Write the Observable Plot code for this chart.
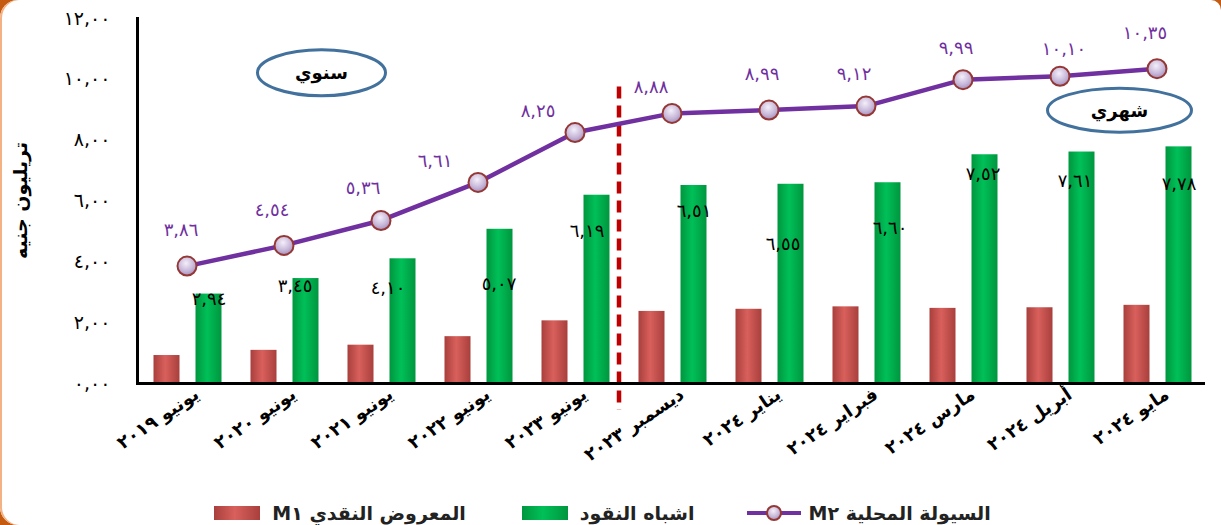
<!DOCTYPE html>
<html>
<head>
<meta charset="utf-8">
<script src="https://cdn.jsdelivr.net/npm/d3@7"></script>
<script src="https://cdn.jsdelivr.net/npm/@observablehq/plot@0.6"></script>
<style>
  html, body { margin: 0; padding: 0; background: #c55a11; }
  #wrap { position: relative; width: 1221px; height: 525px; background: #fff; overflow: hidden;
          border-radius: 18px 10px 0 18px; box-shadow: inset 2px 0 0 #f4b183; font-family: "DejaVu Sans", sans-serif; }
  #legend { display: flex; direction: rtl; justify-content: center; align-items: center; gap: 52px;
            height: 37px; padding-top: 6px; padding-right: 20px; font-weight: bold; font-size: 19px; color: #222; }
  .item { display: flex; align-items: center; gap: 8px; }
</style>
</head>
<body>
<div id="wrap"><div id="chart"></div><div id="legend"></div></div>
<script>
const categories = ["يونيو ٢٠١٩","يونيو ٢٠٢٠","يونيو ٢٠٢١","يونيو ٢٠٢٢","يونيو ٢٠٢٣","ديسمبر ٢٠٢٣","يناير ٢٠٢٤","فبراير ٢٠٢٤","مارس ٢٠٢٤","أبريل ٢٠٢٤","مايو ٢٠٢٤"];
const m1Values    = [0.92, 1.09, 1.26, 1.54, 2.06, 2.37, 2.44, 2.52, 2.47, 2.49, 2.57];
const quasiValues = [2.94, 3.45, 4.10, 5.07, 6.19, 6.51, 6.55, 6.60, 7.52, 7.61, 7.78];
const m2Values    = [3.86, 4.54, 5.36, 6.61, 8.25, 8.88, 8.99, 9.12, 9.99, 10.10, 10.35];
const yTicks = [0, 2, 4, 6, 8, 10, 12];
const seriesNames = ["السيولة المحلية M٢", "اشباه النقود", "المعروض النقدي M١"];
const yTitle = "تريليون جنيه";
const periodNotes = ["سنوي", "شهري"];

// label offsets (pixels) as placed in the source chart
const m2LabelDx = [-6, -12, -18, -43, -37, -21, -7, -12, -7, 4, -12];
const m2LabelDy = [-36, -35, -32, -21, -21, -26, -36, -32, -31, -27, -35];
const quasiLabelDx = [0, -11, -15, -1, -10, 0, -8, 2, -2, -7, 0];
const quasiLabelDy = [5, 8, 29, 55, 36, 26, 60, 45, 19, 29, 37];

const digits = "٠١٢٣٤٥٦٧٨٩";
const fmt = v => v.toFixed(2).replace(/\d/g, d => digits[d]).replace(".", ",");

const rows = categories.map((c, i) => ({cat: c, m1: m1Values[i], quasi: quasiValues[i], m2: m2Values[i], i}));

const GREEN_X = 22; // green bar centre offset from band centre
const m2Labels = rows.map(r => Plot.text([r], {x: "cat", y: "m2", text: d => fmt(d.m2),
  dx: m2LabelDx[r.i], dy: m2LabelDy[r.i], fill: "#7030a0", fontSize: 18, letterSpacing: 2}));
const quasiLabels = rows.map(r => Plot.text([r], {x: "cat", y: "quasi", text: d => fmt(d.quasi),
  dx: GREEN_X + quasiLabelDx[r.i], dy: quasiLabelDy[r.i], fill: "#000", fontSize: 18, letterSpacing: 2}));

const chart = Plot.plot({
  width: 1221, height: 488,
  marginLeft: 137, marginRight: 16, marginTop: 18, marginBottom: 105,
  style: {fontFamily: "DejaVu Sans, sans-serif", background: "transparent", overflow: "visible"},
  x: {domain: categories, padding: 0},
  y: {domain: [0, 12]},
  marks: [
    Plot.axisY(yTicks, {tickSize: 0, tickPadding: 27, tickFormat: fmt, fontSize: 19, letterSpacing: 3, label: null}),
    Plot.axisX({tickSize: 0, tickPadding: 9, tickRotate: -34, fontSize: 18, fontWeight: "bold", letterSpacing: 2, dx: 10, label: null}),
    Plot.barY(rows, {x: "cat", y: "m1", fill: "url(#gRed)", insetLeft: 15.5, insetRight: 55.5}),
    Plot.barY(rows, {x: "cat", y: "quasi", fill: "url(#gGreen)", insetLeft: 57.5, insetRight: 13.5}),
    Plot.ruleX([categories[5]], {dx: -53, y1: 9.75, y2: -0.88, stroke: "#c00000", strokeWidth: 4.5, strokeDasharray: "12,7"}),
    Plot.lineY(rows, {x: "cat", y: "m2", stroke: "#7030a0", strokeWidth: 4.5}),
    Plot.dot(rows, {x: "cat", y: "m2", r: 9.5, fill: "url(#gDot)", stroke: "#953735", strokeWidth: 2}),
    ...m2Labels,
    ...quasiLabels,
    Plot.ruleY([0], {stroke: "#000", strokeWidth: 3}),
    Plot.frame({anchor: "left", stroke: "#000", strokeWidth: 3})
  ]
});

const svg = d3.select(chart);
svg.insert("defs", ":first-child").html(`
  <linearGradient id="gRed" x1="0" x2="1" y1="0" y2="0">
    <stop offset="0" stop-color="#a83f3c"/><stop offset="0.45" stop-color="#d9605c"/><stop offset="1" stop-color="#a83f3c"/>
  </linearGradient>
  <linearGradient id="gGreen" x1="0" x2="1" y1="0" y2="0">
    <stop offset="0" stop-color="#00963f"/><stop offset="0.45" stop-color="#00c058"/><stop offset="1" stop-color="#00963f"/>
  </linearGradient>
  <radialGradient id="gDot" cx="0.45" cy="0.35" r="0.7">
    <stop offset="0" stop-color="#f4effa"/><stop offset="0.6" stop-color="#c6b6d8"/><stop offset="1" stop-color="#9d89b8"/>
  </radialGradient>`);

const xs = chart.scale("x"), ys = chart.scale("y");

// y-axis title, centred on the y range
const midY = (ys.apply(ys.domain[0]) + ys.apply(ys.domain[1])) / 2;
svg.append("text").attr("transform", `translate(${xs.range[0] - 117},${midY}) rotate(-90)`)
  .attr("text-anchor", "middle").attr("dominant-baseline", "central")
  .attr("font-size", 19).attr("font-weight", "bold").attr("fill", "#000").text(yTitle);

// period annotations (ellipses), placed through the chart's scales
const notePlacement = [
  {cat: categories[1], dx: 38, y: 10.2, rx: 64, ry: 23},
  {cat: categories[9], dx: 60, y: 8.97, rx: 72, ry: 22}
];
notePlacement.forEach((p, k) => {
  const cx = xs.apply(p.cat) + xs.bandwidth / 2 + p.dx;
  const cy = ys.apply(p.y);
  const g = svg.append("g");
  g.append("ellipse").attr("cx", cx).attr("cy", cy).attr("rx", p.rx).attr("ry", p.ry)
    .attr("fill", "#fff").attr("stroke", "#41719c").attr("stroke-width", 3);
  g.append("text").attr("x", cx).attr("y", cy).attr("text-anchor", "middle").attr("dominant-baseline", "central")
    .attr("font-size", 18).attr("font-weight", "bold").attr("fill", "#000").text(periodNotes[k]);
});

document.getElementById("chart").appendChild(chart);

// legend
const legend = d3.select("#legend");
const sw = [
  s => { s.append("line").attr("x1", 0).attr("x2", 54).attr("y1", 9).attr("y2", 9).attr("stroke", "#7030a0").attr("stroke-width", 4);
         s.append("circle").attr("cx", 27).attr("cy", 9).attr("r", 7).attr("fill", "url(#gDot)").attr("stroke", "#953735").attr("stroke-width", 2); },
  s => { s.append("rect").attr("x", 4).attr("y", 2).attr("width", 46).attr("height", 14).attr("fill", "url(#gGreen)"); },
  s => { s.append("rect").attr("x", 4).attr("y", 2).attr("width", 46).attr("height", 14).attr("fill", "url(#gRed)"); }
];
seriesNames.forEach((name, k) => {
  const it = legend.append("div").attr("class", "item");
  it.append("span").text(name);
  const s = it.append("svg").attr("width", 54).attr("height", 18);
  sw[k](s);
});
</script>
</body>
</html>
